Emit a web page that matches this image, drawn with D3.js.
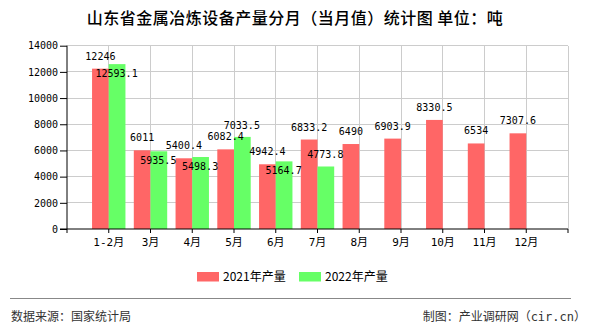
<!DOCTYPE html>
<html><head><meta charset="utf-8">
<script src="https://cdn.jsdelivr.net/npm/d3@7"></script>
<style>body{margin:0;background:#fff;}svg{display:block;}</style>
</head><body>
<svg id="c" width="590" height="330"></svg>
<script>
const categories = ["1-2月","3月","4月","5月","6月","7月","8月","9月","10月","11月","12月"];
const values2021 = [12246,6011,5400.4,6082.4,4942.4,6833.2,6490,6903.9,8330.5,6534,7307.6];
const values2022 = [12593.1,5935.5,5498.3,7033.5,5164.7,4773.8];
const label2022Pos = ["below","below","below","above","below","above"];
const yTicks = [0,2000,4000,6000,8000,10000,12000,14000];
const seriesNames = ["2021年产量","2022年产量"];
const colors = ["#ff6666","#66ff66"];
const titleText = "山东省金属冶炼设备产量分月（当月值）统计图 单位：吨";
const sourceText = "数据来源：国家统计局";
const creditText = "制图：产业调研网（cir.cn）";

const svg = d3.select("#c");
const pL = 67, pR = 568, pT = 45.7, pB = 229;
const step = (pR - pL) / 12;
const x = d3.scalePoint().domain(categories).range([pL + step, pR - step]);
const y = d3.scaleLinear().domain([0, 14000]).range([pB, pT]);
const bw = step * 0.4;
const mono = "'DejaVu Sans Mono','Noto Sans CJK SC',monospace";
const sans = "'Noto Sans CJK SC','Noto Sans',sans-serif";

// title
svg.append("text").attr("x", 295).attr("y", 24).attr("text-anchor", "middle")
  .style("font-family", sans).style("font-size", "16px").style("letter-spacing", "0.5px")
  .style("font-weight", "500").attr("fill", "#000").text(titleText);

// horizontal grid
svg.append("g").selectAll("line").data(yTicks.filter(d => d > 0)).join("line")
  .attr("x1", pL).attr("x2", pR).attr("y1", d => y(d)).attr("y2", d => y(d))
  .attr("stroke", "#cccccc").attr("stroke-width", 1).attr("shape-rendering", "crispEdges");
// vertical grid
const vx = categories.map(c => x(c)).concat([pR]);
svg.append("g").selectAll("line").data(vx).join("line")
  .attr("x1", d => d).attr("x2", d => d).attr("y1", pT).attr("y2", pB)
  .attr("stroke", "#cccccc").attr("stroke-width", 1).attr("shape-rendering", "crispEdges");

// bars
svg.append("g").selectAll("rect").data(values2021).join("rect")
  .attr("x", (d, i) => x(categories[i]) - bw).attr("width", bw)
  .attr("y", d => y(d)).attr("height", d => pB - y(d)).attr("fill", colors[0]);
svg.append("g").selectAll("rect").data(values2022).join("rect")
  .attr("x", (d, i) => x(categories[i])).attr("width", bw)
  .attr("y", d => y(d)).attr("height", d => pB - y(d)).attr("fill", colors[1]);

// y axis
const yAxis = d3.axisLeft(y).tickValues(yTicks).tickSize(7).tickPadding(2).tickFormat(d3.format("d"));
const ya = svg.append("g").attr("transform", `translate(${pL},0)`).call(yAxis);
ya.select(".domain").attr("stroke", "#000").attr("d", `M0,${pT}V${pB}`);
ya.selectAll("text").style("font-family", mono).style("font-size", "10px").attr("fill", "#000");
ya.selectAll("line").attr("stroke", "#000");

// x axis
const xa = svg.append("g").attr("transform", `translate(0,${pB})`);
xa.append("line").attr("x1", pL - 7).attr("x2", pR).attr("y1", 0).attr("y2", 0).attr("stroke", "#000");
xa.selectAll("line.t").data([pL].concat(vx)).join("line").attr("class", "t")
  .attr("x1", d => d).attr("x2", d => d).attr("y1", 0).attr("y2", 4).attr("stroke", "#000");
xa.selectAll("text").data(categories).join("text")
  .attr("x", d => x(d)).attr("y", 17).attr("text-anchor", "middle")
  .style("font-family", mono).style("font-size", "11px").attr("fill", "#000").text(d => d);

// data labels
svg.append("g").selectAll("text").data(values2021).join("text")
  .attr("x", (d, i) => x(categories[i]) - bw / 2).attr("y", d => y(d) - 9)
  .attr("text-anchor", "middle").style("font-family", mono).style("font-size", "10px")
  .attr("fill", "#000").text(d => d);
svg.append("g").selectAll("text").data(values2022).join("text")
  .attr("x", (d, i) => x(categories[i]) + bw / 2 - 0.5)
  .attr("y", (d, i) => label2022Pos[i] === "above" ? y(d) - 8 : y(d) + 13)
  .attr("text-anchor", "middle").style("font-family", mono).style("font-size", "10px")
  .attr("fill", "#000").text(d => d);

// legend
const lg = svg.append("g");
const lx = [197, 299];
seriesNames.forEach((n, i) => {
  lg.append("rect").attr("x", lx[i]).attr("y", 272).attr("width", 22).attr("height", 9.5).attr("fill", colors[i]);
  lg.append("text").attr("x", lx[i] + 26).attr("y", 281).style("font-family", sans)
    .style("font-size", "12px").attr("fill", "#000").text(n);
});

// footer
svg.append("line").attr("x1", 10).attr("x2", 571).attr("y1", 298.5).attr("y2", 298.5)
  .attr("stroke", "#888").attr("stroke-width", 1);
svg.append("text").attr("x", 11).attr("y", 321).style("font-family", sans).style("font-size", "12px")
  .attr("fill", "#333").text(sourceText);
svg.append("text").attr("x", 586).attr("y", 321).attr("text-anchor", "end").style("font-family", mono)
  .style("font-size", "12px").attr("fill", "#333").text(creditText);
</script>
</body></html>
